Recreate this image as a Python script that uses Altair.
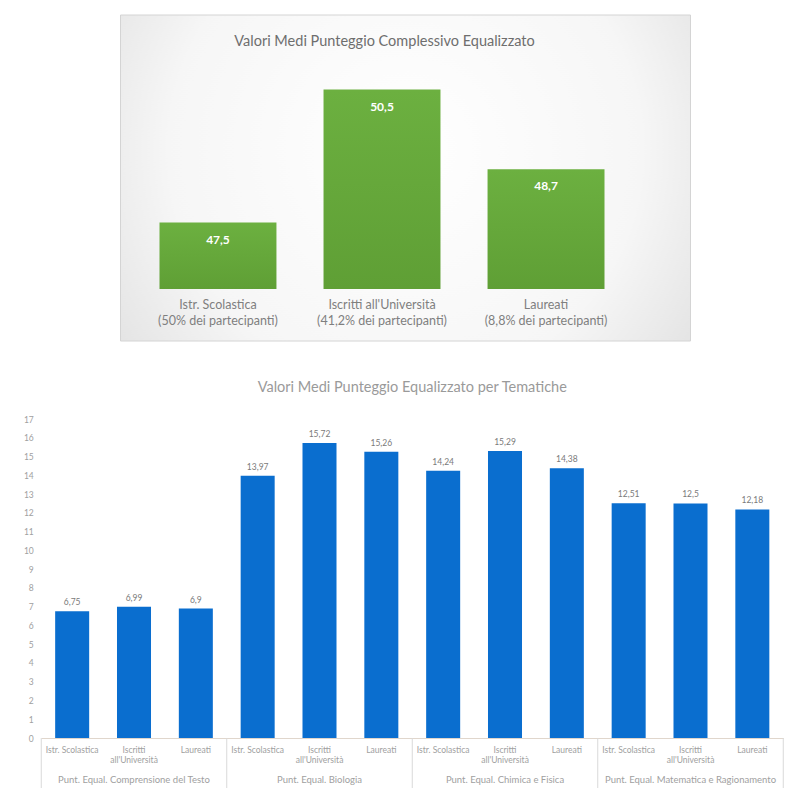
import altair as alt
import pandas as pd

# ---------------- data ----------------
top_title = "Valori Medi Punteggio Complessivo Equalizzato"
top_categories = ["Istr. Scolastica", "Iscritti all'Università", "Laureati"]
top_subtitles = ["(50% dei partecipanti)", "(41,2% dei partecipanti)", "(8,8% dei partecipanti)"]
top_values = [47.5, 50.5, 48.7]
top_value_labels = ["47,5", "50,5", "48,7"]

bottom_title = "Valori Medi Punteggio Equalizzato per Tematiche"
groups = [
    "Punt. Equal. Comprensione del Testo",
    "Punt. Equal. Biologia",
    "Punt. Equal. Chimica e Fisica",
    "Punt. Equal. Matematica e Ragionamento",
]
sub_categories = ["Istr. Scolastica", "Iscritti all'Università", "Laureati"]
bottom_values = [6.75, 6.99, 6.9, 13.97, 15.72, 15.26, 14.24, 15.29, 14.38, 12.51, 12.5, 12.18]
bottom_value_labels = ["6,75", "6,99", "6,9", "13,97", "15,72", "15,26",
                       "14,24", "15,29", "14,38", "12,51", "12,5", "12,18"]
y_ticks = list(range(0, 18))

FONT = "Lato"

# ---------------- top chart ----------------
TW, TH = 570, 326
TW_PLOT = TW + 14  # extra right room so the centred box sits where the reference has it
top_df = pd.DataFrame({
    "cat": top_categories,
    "label": [c + "\n" + s for c, s in zip(top_categories, top_subtitles)],
    "value": top_values,
    "vlabel": top_value_labels,
    "base": [46.0] * 3,
})

tx = alt.X("cat:N", sort=top_categories, axis=None,
           scale=alt.Scale(range=[39, 484], paddingInner=0.287, paddingOuter=0))
ty_scale = alt.Scale(domain=[44.83, 52.18], nice=False, zero=False)

bg = alt.Chart(pd.DataFrame({"a": [0]})).mark_rect(
    fill=alt.Gradient(
        gradient="radial",
        stops=[alt.GradientStop(offset=0, color="#ffffff"),
               alt.GradientStop(offset=0.55, color="#f6f6f6"),
               alt.GradientStop(offset=1, color="#d6d6d6")],
        x1=0.5, y1=0.45, x2=0.5, y2=0.45, r1=0, r2=0.75,
    ),
    stroke="#d4d4d4", strokeWidth=1,
).encode(x=alt.value(0), x2=alt.value(TW), y=alt.value(0), y2=alt.value(TH))

bars_top = alt.Chart(top_df).mark_bar(
    fill=alt.Gradient(
        gradient="linear",
        stops=[alt.GradientStop(offset=0, color="#6cb040"),
               alt.GradientStop(offset=1, color="#5f9f35")],
        x1=0, y1=0, x2=0, y2=1,
    )
).encode(
    x=tx,
    y=alt.Y("value:Q", scale=ty_scale, axis=None),
    y2="base:Q",
)

vals_top = alt.Chart(top_df).mark_text(
    color="white", fontWeight="bold", fontSize=12, font=FONT, dy=17
).encode(x=tx, y=alt.Y("value:Q", scale=ty_scale, axis=None), text="vlabel:N")

cats_top = alt.Chart(top_df).mark_text(
    color="#7f7f7f", fontSize=12.5, font=FONT, baseline="top", lineBreak="\n", lineHeight=16
).encode(x=tx, y=alt.value(284), text="label:N")

title_top = alt.Chart(pd.DataFrame({"t": [top_title]})).mark_text(
    color="#6e6e6e", fontSize=14.5, font=FONT
).encode(x=alt.value(264), y=alt.value(27), text="t:N")

top_chart = alt.layer(bg, bars_top, vals_top, cats_top, title_top).properties(
    width=TW_PLOT, height=TH
)

# ---------------- bottom chart ----------------
BW, BH = 742, 319
keys = [f"{gi}{ci}" for gi in range(len(groups)) for ci in range(len(sub_categories))]
STEP = BW / len(keys)
bot_df = pd.DataFrame({
    "key": keys,
    "value": bottom_values,
    "vlabel": bottom_value_labels,
})
grp_df = pd.DataFrame({
    "key": [f"{gi}1" for gi in range(len(groups))],
    "group": groups,
})
sep_df = pd.DataFrame({"key": [f"{gi}0" for gi in range(len(groups))]})
sep_end_df = pd.DataFrame({"key": [keys[-1]]})

label_expr = (
    "{'0': 'Istr. Scolastica', '1': ['Iscritti', \"all'Università\"], '2': 'Laureati'}"
    "[substring(datum.value, 1, 2)]"
)

bx = alt.X("key:N", sort=keys, title=None,
           scale=alt.Scale(paddingInner=0, paddingOuter=0),
           axis=alt.Axis(labelExpr=label_expr, labelAngle=0, labelFontSize=8.5,
                         labelColor="#a0a0a0", labelFont=FONT, ticks=False,
                         domainColor="#e0d6cc", labelPadding=7, labelLineHeight=10))
by = alt.Y("value:Q", title=None, scale=alt.Scale(domain=[0, 17], nice=False),
           axis=alt.Axis(values=y_ticks, grid=False, domain=False, ticks=False,
                         labelFontSize=8.5, labelColor="#a0a0a0", labelFont=FONT,
                         labelPadding=8))

bars_bot = alt.Chart(bot_df).mark_bar(width={"band": 0.55}, color="#0a6ecf").encode(x=bx, y=by)
vals_bot = alt.Chart(bot_df).mark_text(
    dy=-9, fontSize=8.5, color="#7a7a7a", font=FONT
).encode(x=bx, y=by, text="vlabel:N")

grp_text = alt.Chart(grp_df).mark_text(
    fontSize=9.5, color="#a0a0a0", font=FONT
).encode(x=alt.X("key:N", sort=keys), y=alt.value(BH + 42), text="group:N")

seps = alt.Chart(sep_df).mark_rule(color="#d9d9d9", xOffset=-STEP / 2).encode(
    x=alt.X("key:N", sort=keys), y=alt.value(BH), y2=alt.value(BH + 50)
)
sep_end = alt.Chart(sep_end_df).mark_rule(color="#d9d9d9", xOffset=STEP / 2).encode(
    x=alt.X("key:N", sort=keys), y=alt.value(BH), y2=alt.value(BH + 50)
)

bottom_chart = alt.layer(bars_bot, vals_bot, grp_text, seps, sep_end).properties(
    width=BW, height=BH,
    title=alt.TitleParams(bottom_title, fontSize=14.5, color="#9a9a9a", font=FONT,
                          fontWeight="normal", offset=20, anchor="middle"),
)

chart = alt.vconcat(top_chart, bottom_chart, spacing=37, center=True).properties(
    padding={"left": 23, "top": 14, "right": 0, "bottom": 0},
    background="white",
).configure_view(stroke=None)

chart.save("out.html", embed_options={"renderer": "svg", "actions": False})
